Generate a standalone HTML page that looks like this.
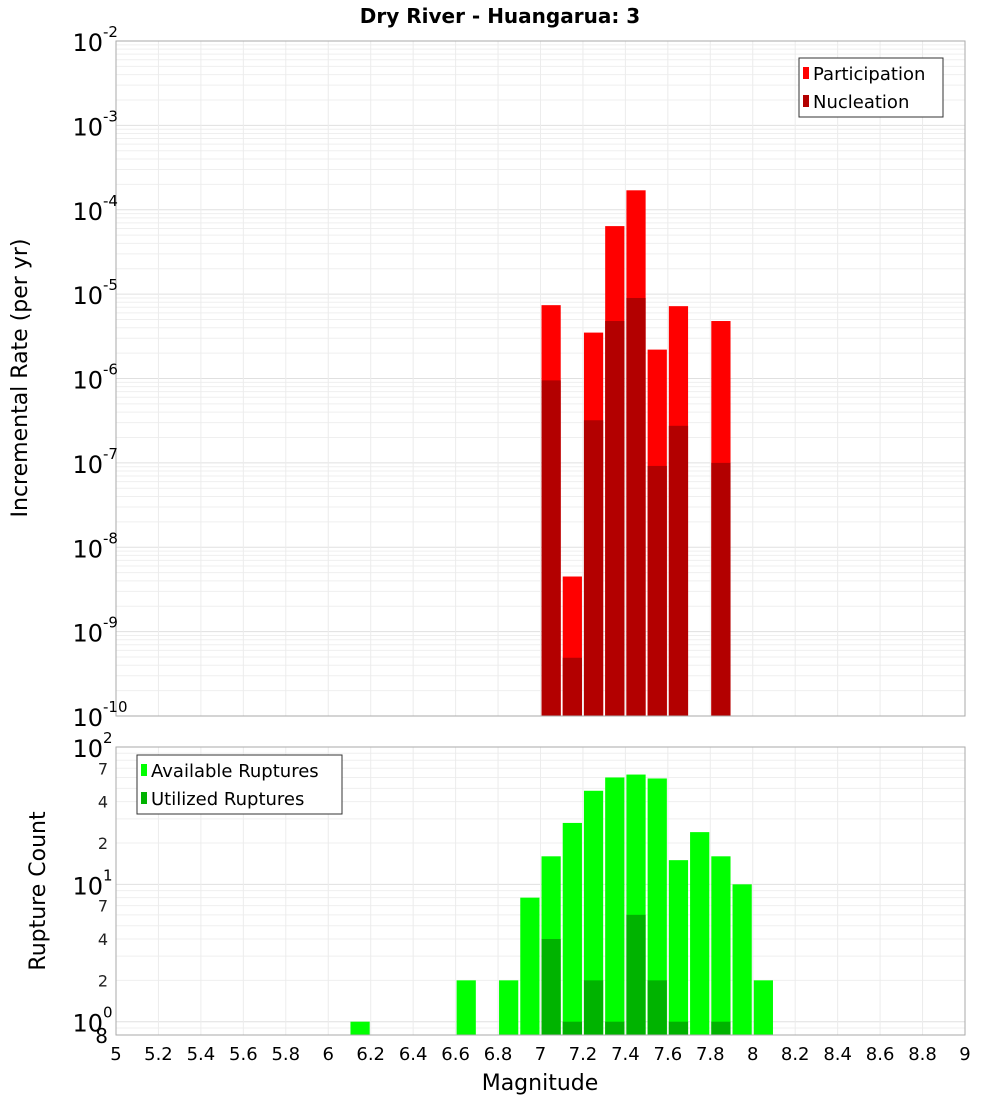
<!DOCTYPE html>
<html><head><meta charset="utf-8"><style>body{margin:0;background:#fff}svg{display:block;font-family:"DejaVu Sans","Liberation Sans",sans-serif}</style></head>
<body>
<svg id="c" width="1000" height="1100"></svg>
<script>
const mags=[7.05,7.15,7.25,7.35,7.45,7.55,7.65,7.85];
const participation=[7.4e-6,4.5e-9,3.5e-6,6.4e-5,1.7e-4,2.2e-6,7.2e-6,4.8e-6];
const nucleation=[9.5e-7,4.9e-10,3.2e-7,4.8e-6,9e-6,9.2e-8,2.75e-7,1e-7];
const availMags=[6.15,6.65,6.85,6.95,7.05,7.15,7.25,7.35,7.45,7.55,7.65,7.75,7.85,7.95,8.05];
const available=[1,2,2,8,16,28,48,60,63,59,15,24,16,10,2];
const utilMags=[7.05,7.15,7.25,7.35,7.45,7.55,7.65,7.85];
const utilized=[4,1,2,1,6,2,1,1];
const xTicks=["5","5.2","5.4","5.6","5.8","6","6.2","6.4","6.6","6.8","7","7.2","7.4","7.6","7.8","8","8.2","8.4","8.6","8.8","9"];
const topExps=[-2,-3,-4,-5,-6,-7,-8,-9,-10];
const botMinor=[7,4,2];

const NS="http://www.w3.org/2000/svg",svg=document.getElementById('c');
function el(t,a,p,txt){const e=document.createElementNS(NS,t);for(const k in a)e.setAttribute(k,a[k]);if(txt!=null)e.textContent=txt;(p||svg).appendChild(e);return e;}
const X0=116,X1=965;
const x=m=>X0+(m-5)/4*(X1-X0);
const T0=41,T1=716;
const yT=v=>T0+(-2-Math.log10(v))/8*(T1-T0);
const B0=747,B1=1035,bMin=0.8,bMax=100;
const yB=v=>B0+(Math.log10(bMax)-Math.log10(v))/(Math.log10(bMax)-Math.log10(bMin))*(B1-B0);

// title
let t=el('text',{x:500,y:23,'text-anchor':'middle','font-size':20,'font-weight':'bold'},null,'Dry River - Huangarua: 3');


// top panel grid
let g=el('g',{});
for(let e=-10;e<-2;e++)for(let k=1;k<10;k++){const yy=yT(k*Math.pow(10,e));el('line',{x1:X0,x2:X1,y1:yy,y2:yy,stroke:k==1?'#e0e0e0':'#efefef'},g);}
for(let i=0;i<xTicks.length;i++){const xx=x(5+i*0.2);el('line',{x1:xx,x2:xx,y1:T0,y2:T1,stroke:'#ececec'},g);}
// top bars
for(let i=0;i<mags.length;i++){
 let r=el('rect',{x:x(mags[i]-0.05)+1,width:x(0.1+5)-X0-2,y:yT(participation[i]),height:T1-yT(participation[i]),fill:'#ff0000'});
 
 r=el('rect',{x:x(mags[i]-0.05)+1,width:x(0.1+5)-X0-2,y:yT(nucleation[i]),height:T1-yT(nucleation[i]),fill:'#b30000'});
 
}
el('rect',{x:X0,y:T0,width:X1-X0,height:T1-T0,fill:'none',stroke:'#aaa'});
// top y labels
for(const e of topExps){const yy=yT(Math.pow(10,e));
 let tx=el('text',{x:103,y:yy+10,'text-anchor':'end','font-size':24},null,'10');
 
 el('text',{x:103,y:yy-4,'font-size':15},null,String(e));}
t=el('text',{transform:'translate(27,378) rotate(-90)','text-anchor':'middle','font-size':22},null,'Incremental Rate (per yr)');

// top legend
g=el('g',{});
el('rect',{x:799,y:58,width:144,height:59,fill:'#fff',stroke:'#333'},g);
el('rect',{x:803,y:67,width:6,height:12,fill:'#ff0000'},g);
el('text',{x:813,y:80,'font-size':18},g,'Participation');
el('rect',{x:803,y:95,width:6,height:12,fill:'#b30000'},g);
el('text',{x:813,y:108,'font-size':18},g,'Nucleation');

// bottom grid
g=el('g',{});
for(let e=-1;e<2;e++)for(let k=1;k<10;k++){const v=k*Math.pow(10,e);if(v<bMin||v>bMax)continue;const yy=yB(v);el('line',{x1:X0,x2:X1,y1:yy,y2:yy,stroke:k==1?'#e0e0e0':'#efefef'},g);}
for(let i=0;i<xTicks.length;i++){const xx=x(5+i*0.2);el('line',{x1:xx,x2:xx,y1:B0,y2:B1,stroke:'#ececec'},g);}
for(let i=0;i<availMags.length;i++){
 let r=el('rect',{x:x(availMags[i]-0.05)+1,width:x(5.1)-X0-2,y:yB(available[i]),height:B1-yB(available[i]),fill:'#00ff00'});
 }
for(let i=0;i<utilMags.length;i++){
 let r=el('rect',{x:x(utilMags[i]-0.05)+1,width:x(5.1)-X0-2,y:yB(utilized[i]),height:B1-yB(utilized[i]),fill:'#00b300'});
 }
el('rect',{x:X0,y:B0,width:X1-X0,height:B1-B0,fill:'none',stroke:'#aaa'});
// bottom y labels
for(const e of [2,1,0]){const yy=yB(Math.pow(10,e));
 let tx=el('text',{x:103,y:yy+10,'text-anchor':'end','font-size':24},null,'10');
 
 el('text',{x:103,y:yy-4,'font-size':15},null,String(e));}
for(const e of [0,1])for(const k of botMinor){const yy=yB(k*Math.pow(10,e));el('text',{x:108,y:yy+6,'text-anchor':'end','font-size':16,fill:'#222'},null,String(k));}
el('text',{x:108,y:yB(0.8)+8,'text-anchor':'end','font-size':20},null,'8');
t=el('text',{transform:'translate(45,891) rotate(-90)','text-anchor':'middle','font-size':22},null,'Rupture Count');

// bottom legend
g=el('g',{});
el('rect',{x:137,y:755,width:205,height:59,fill:'#fff',stroke:'#333'},g);
el('rect',{x:141,y:764,width:6,height:12,fill:'#00ff00'},g);
el('text',{x:151,y:777,'font-size':18},g,'Available Ruptures');
el('rect',{x:141,y:792,width:6,height:12,fill:'#00b300'},g);
el('text',{x:151,y:805,'font-size':18},g,'Utilized Ruptures');
// x ticks
for(let i=0;i<xTicks.length;i++){let tx=el('text',{x:x(5+i*0.2),y:1060,'text-anchor':'middle','font-size':18},null,xTicks[i]);
 }
t=el('text',{x:540,y:1090,'text-anchor':'middle','font-size':22},null,'Magnitude');

</script>
</body></html>
